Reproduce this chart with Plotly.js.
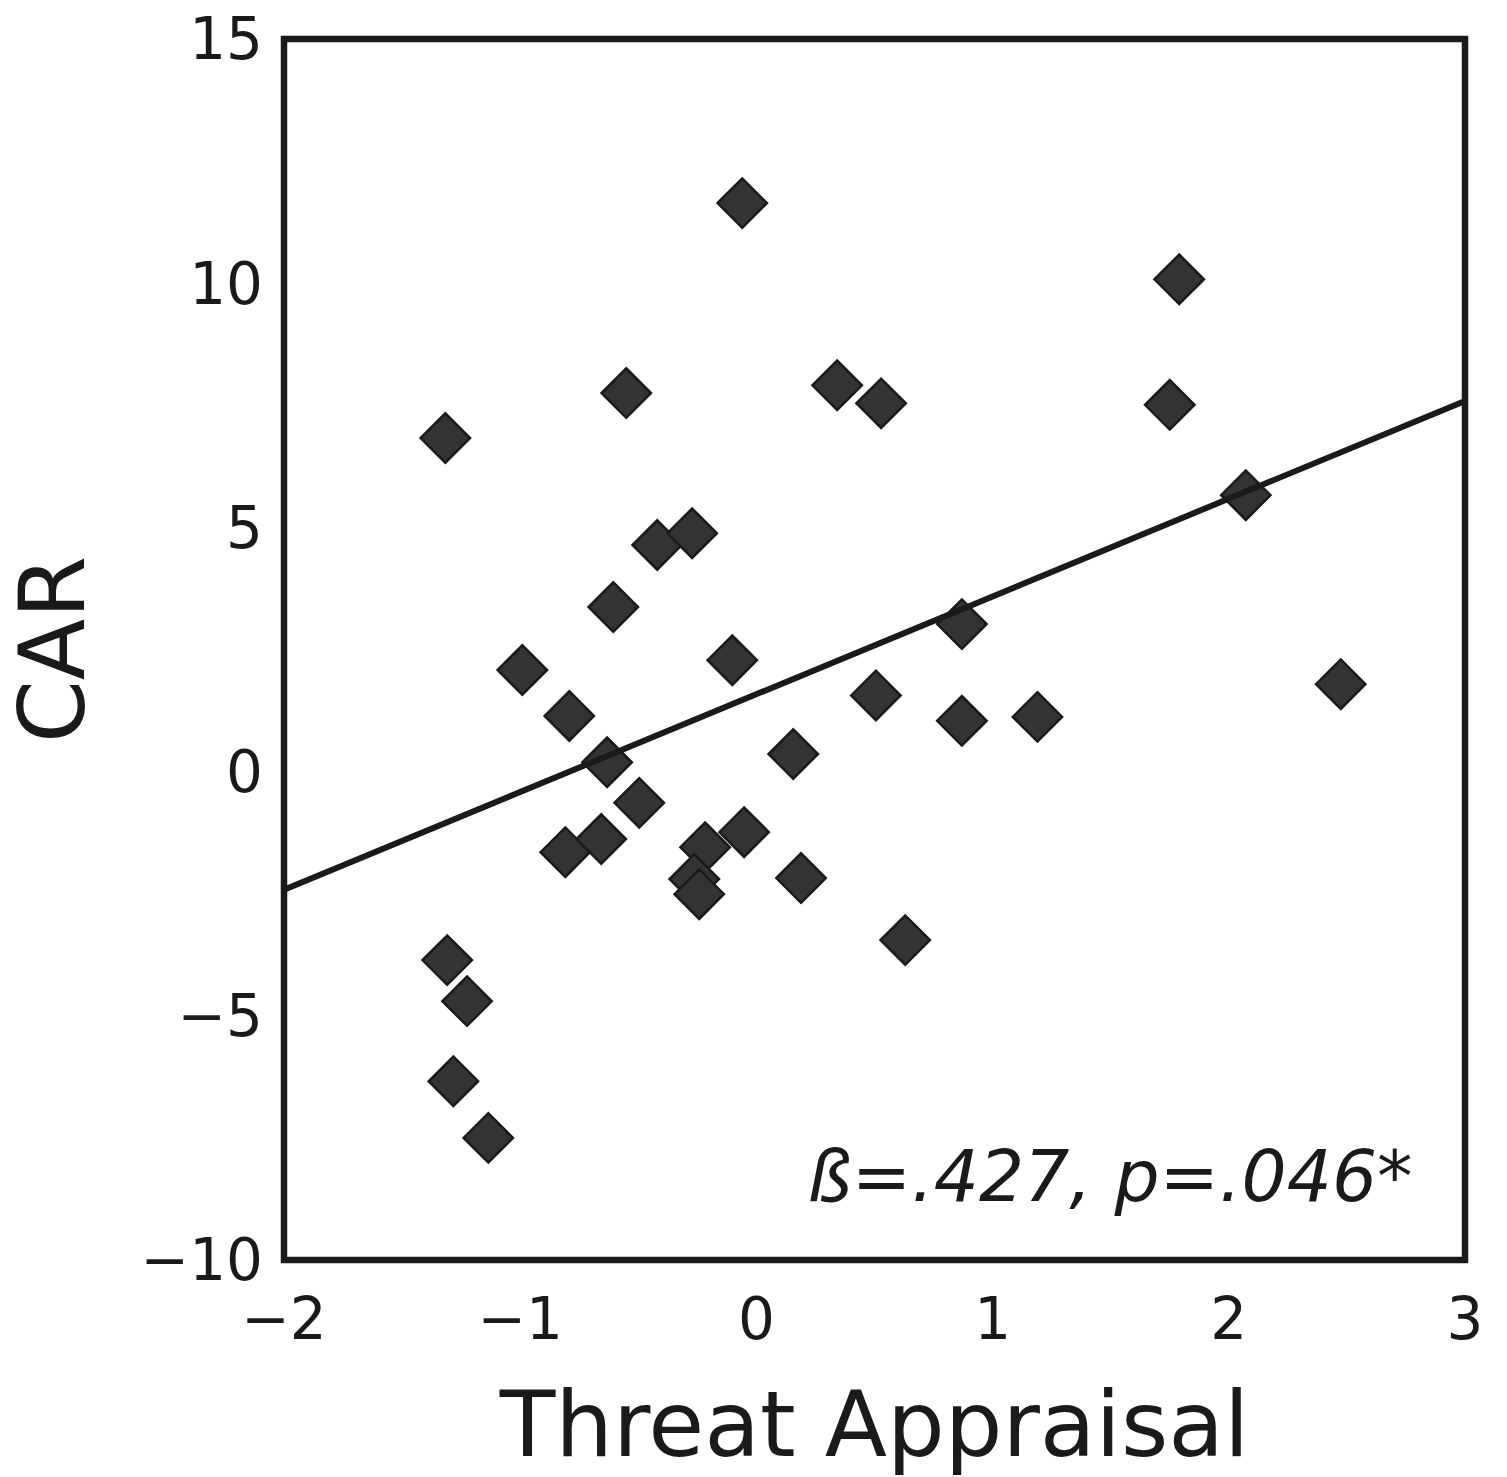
<!DOCTYPE html>
<html>
<head>
<meta charset="utf-8">
<script src="https://cdn.plot.ly/plotly-3.0.1.min.js"></script>
<style>html,body{margin:0;padding:0;background:#fff;}</style>
</head>
<body>
<div id="chart" style="width:1507px;height:1477px;"></div>
<script>
// Threat Appraisal (x) vs CAR (y)
const threatAppraisal = [-1.317, -0.060, 1.790, -0.551, 0.342, 0.528, 1.750, 2.072, -0.420, -0.272,
  -0.606, 0.870, -0.991, -0.102, -0.792, 0.506, 2.474, 0.870, 1.190, -0.632,
  0.156, -0.496, -0.809, -0.657, -0.052, -0.217, -0.263, -0.242, 0.189, 0.630,
  -1.309, -1.225, -1.283, -1.135];
const car = [6.83, 11.64, 10.08, 7.75, 7.91, 7.54, 7.51, 5.66, 4.64, 4.88,
  3.37, 3.02, 2.08, 2.28, 1.14, 1.56, 1.79, 1.04, 1.12, 0.19,
  0.36, -0.64, -1.65, -1.38, -1.24, -1.55, -2.20, -2.51, -2.18, -3.45,
  -3.86, -4.70, -6.34, -7.50];
// regression line endpoints
const fitX = [-2, 3];
const fitY = [-2.42, 7.59];
const xTicks = [-2, -1, 0, 1, 2, 3];
const yTicks = [-10, -5, 0, 5, 10, 15];
const annotationText = "ß=.427, p=.046*";

const ink = "#1a1a1a";
const fnt = "DejaVu Sans, sans-serif";
const fmt = v => (v < 0 ? "\u2212" + Math.abs(v) : String(v));

const traces = [
  {
    type: "scatter", mode: "markers", x: threatAppraisal, y: car,
    marker: {symbol: "diamond", size: 38, color: "#333333", line: {color: ink, width: 2.5}},
    hoverinfo: "x+y", showlegend: false
  },
  {
    type: "scatter", mode: "lines", x: fitX, y: fitY,
    line: {color: ink, width: 6}, hoverinfo: "skip", showlegend: false
  }
];

const layout = {
  width: 1507, height: 1477,
  paper_bgcolor: "#ffffff", plot_bgcolor: "#ffffff",
  margin: {l: 284, r: 42, t: 39, b: 217, pad: 0},
  font: {family: fnt, color: ink},
  showlegend: false,
  xaxis: {
    range: [-2, 3], showgrid: false, zeroline: false, showline: false,
    tickmode: "array", tickvals: xTicks, ticktext: xTicks.map(fmt),
    ticks: "", ticklabelstandoff: 20,
    tickfont: {family: fnt, size: 58, color: ink},
    title: {text: "Threat Appraisal", font: {family: fnt, size: 91, color: ink}, standoff: 40},
    automargin: false
  },
  yaxis: {
    range: [-10, 15], showgrid: false, zeroline: false, showline: false,
    tickmode: "array", tickvals: yTicks, ticktext: yTicks.map(fmt),
    ticks: "", ticklabelstandoff: 20,
    tickfont: {family: fnt, size: 58, color: ink},
    title: {text: "CAR", font: {family: fnt, size: 90, color: ink}, standoff: 46},
    automargin: false
  },
  shapes: [{
    type: "rect", xref: "paper", yref: "paper", x0: 0, x1: 1, y0: 0, y1: 1,
    line: {color: ink, width: 6.5}, fillcolor: "rgba(0,0,0,0)", layer: "above"
  }],
  annotations: [{
    xref: "x", yref: "y", x: 2.79, y: -9.18, xanchor: "right", yanchor: "bottom",
    text: "<i>" + annotationText + "</i>", showarrow: false,
    font: {family: fnt, size: 71, color: ink}
  }]
};

Plotly.newPlot("chart", traces, layout, {displayModeBar: false, staticPlot: true});
</script>
</body>
</html>
